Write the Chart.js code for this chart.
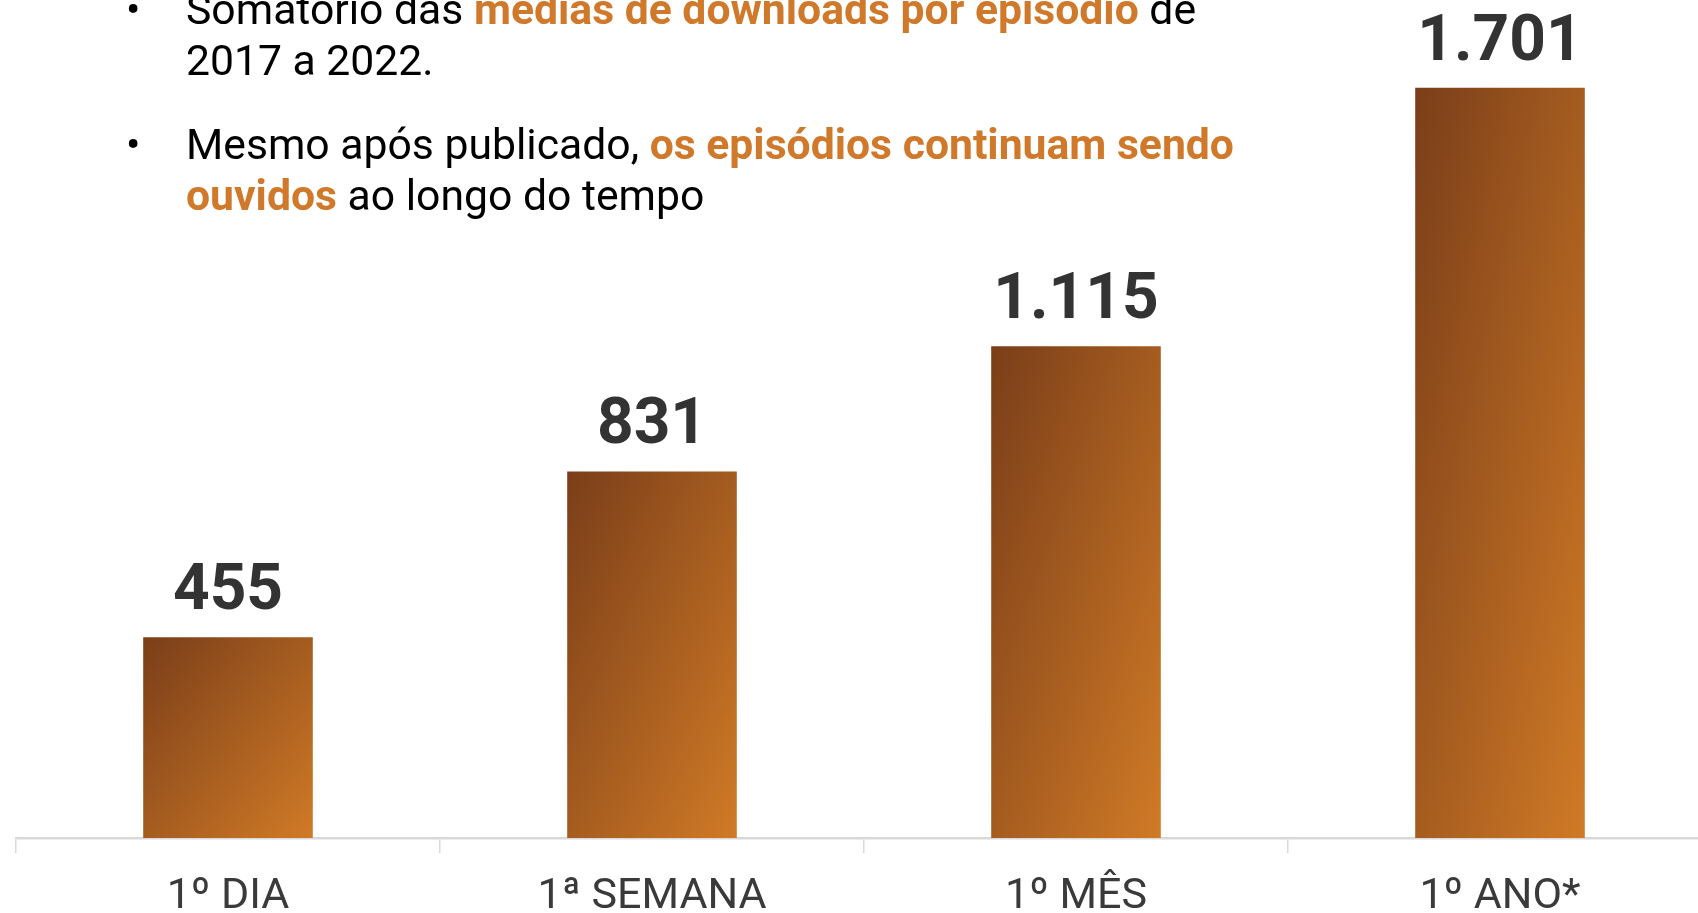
<!DOCTYPE html>
<html>
<head>
<meta charset="utf-8">
<script src="https://cdn.jsdelivr.net/npm/chart.js@4"></script>
<style>
body{margin:0;overflow:hidden;background:#fff;font-family:Roboto,sans-serif;}
#wrap{position:absolute;left:0;top:0;width:1712px;height:913px;}
.para{position:absolute;left:186px;font-size:42.7px;line-height:51px;color:#000;white-space:nowrap;}
.para .dot{position:absolute;left:-60px;top:0;}
.hl{color:#D0792A;font-weight:bold;}
</style>
</head>
<body>
<div id="wrap"><canvas id="chart" width="1712" height="913"></canvas></div>
<div class="para" style="top:-16px"><span class="dot">•</span>Somatório das <span class="hl">médias de downloads por episódio</span> de<br>2017 a 2022.</div>
<div class="para" style="top:119px"><span class="dot">•</span>Mesmo após publicado, <span class="hl">os episódios continuam sendo</span><br><span class="hl">ouvidos</span> ao longo do tempo</div>
<script>
const categories = ["1º DIA", "1ª SEMANA", "1º MÊS", "1º ANO*"];
const downloads = [455, 831, 1115, 1701];

const fmt = v=>String(v).replace(/\B(?=(\d{3})+(?!\d))/g, ".");

// diagonal gradient per bar, corner to corner like office fills
function barFill(ctx){
    let ch = ctx.chart, xs = ch.scales.x, ys = ch.scales.y;
    let fallback = "#A55C1F";
    if(!xs || !ys || ctx.dataIndex==null) return fallback;
    let w = xs.width/categories.length*0.4;
    let cx = xs.getPixelForValue(ctx.dataIndex);
    let top = ys.getPixelForValue(downloads[ctx.dataIndex]), bot = ys.getPixelForValue(0);
    let h = bot-top, x0 = cx-w/2;
    if(![w,cx,top,bot].every(isFinite) || w<=0 || h<=0) return fallback;
    let k = 2*w*h/(w*w+h*h);
    let g = ch.ctx.createLinearGradient(x0, top, x0+h*k, top+w*k);
    g.addColorStop(0, "#7A3E19");
    g.addColorStop(1, "#D07A26");
    return g;
}

const valueLabels = {
    id:"valueLabels",
    afterDatasetsDraw(chart){
        let c = chart.ctx;
        c.save();
        c.font = "bold 64px Roboto";
        c.fillStyle = "#333333";
        c.textAlign = "center";
        c.textBaseline = "alphabetic";
        chart.getDatasetMeta(0).data.forEach((el,i)=>{
            c.fillText(fmt(downloads[i]), el.x, el.y-28);
        });
        c.restore();
    }
};

new Chart(document.getElementById("chart").getContext("2d"), {
    type:"bar",
    data:{labels:categories, datasets:[{data:downloads, backgroundColor:barFill, borderWidth:0,
        barPercentage:0.4, categoryPercentage:1}]},
    options:{
        responsive:false, animation:false, devicePixelRatio:1,
        layout:{padding:{left:16, right:0, top:0, bottom:0}},
        plugins:{legend:{display:false}, tooltip:{enabled:false}},
        scales:{
            x:{
                grid:{offset:true, drawOnChartArea:false, tickLength:15, color:"#D9D9D9", lineWidth:1.5},
                border:{display:true, color:"#D9D9D9", width:2.5},
                ticks:{color:"#3A3A3A", font:{family:"Roboto", size:43}, padding:18, maxRotation:0},
                afterFit:s=>{s.height=75;}
            },
            y:{display:false, min:0, max:1900}
        }
    },
    plugins:[valueLabels]
});
</script>
</body>
</html>
